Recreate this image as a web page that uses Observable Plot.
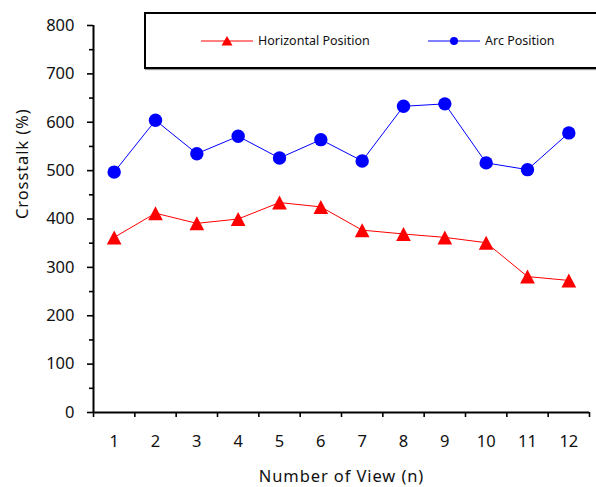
<!DOCTYPE html>
<html>
<head>
<meta charset="utf-8">
<script src="https://cdn.jsdelivr.net/npm/d3@7"></script>
<script src="https://cdn.jsdelivr.net/npm/@observablehq/plot@0.6"></script>
<style>
  html, body { margin: 0; padding: 0; background: #fff; overflow: hidden; }
  #wrap { position: relative; width: 596px; height: 487px; font-family: "Noto Sans", sans-serif; }
  #legend { position: absolute; left: 144px; top: 12px; width: 470px; height: 53px; border: 2px solid #000; background: #fff; box-shadow: 1px 1px 1px #999; }
  .item { position: absolute; top: 0; height: 53px; display: flex; align-items: center; font-size: 12.5px; color: #111; }
  .item svg { margin-right: 5px; }
  .title text { letter-spacing: 0.9px; }
</style>
</head>
<body>
<div id="wrap"></div>
<script>
const views = [1, 2, 3, 4, 5, 6, 7, 8, 9, 10, 11, 12];
const horizontal = [362, 412, 391, 400, 434, 425, 377, 369, 362, 351, 281, 273];
const arc = [497, 604, 535, 571, 526, 564, 520, 633, 638, 516, 502, 578];
const yMajor = [0, 100, 200, 300, 400, 500, 600, 700, 800];
const yMinor = [50, 150, 250, 350, 450, 550, 650, 750];
const seriesNames = ["Horizontal Position", "Arc Position"];
const seriesColors = ["#ff0000", "#0000ff"];

const xEdges = views.map(v => v - 0.5).concat([views[views.length - 1] + 0.5]);
const hData = views.map((v, i) => ({view: v, value: horizontal[i]}));
const aData = views.map((v, i) => ({view: v, value: arc[i]}));

// bounding-box centred triangle (Excel style)
const tri = {
  draw(ctx, size) {
    const r = Math.sqrt(size / Math.PI);
    ctx.moveTo(0, -r);
    ctx.lineTo(r * 1.05, r);
    ctx.lineTo(-r * 1.05, r);
    ctx.closePath();
  }
};

const chart = Plot.plot({
  width: 596,
  height: 487,
  marginLeft: 93,
  marginRight: 7,
  marginTop: 25,
  marginBottom: 75,
  style: {fontFamily: "Noto Sans, sans-serif", fontSize: "16px", color: "#111", background: "#fff", overflow: "visible"},
  x: {type: "linear", domain: [xEdges[0], xEdges[xEdges.length - 1]]},
  y: {domain: [0, 800]},
  marks: [
    Plot.axisY({ticks: yMajor, tickSize: 6, tickPadding: 13, fontSize: 16.5, label: null, strokeWidth: 1.6, stroke: "#000"}),
    Plot.axisY({ticks: yMinor, tickSize: 4, text: null, label: null, strokeWidth: 1.6, stroke: "#000"}),
    Plot.axisX({ticks: xEdges, tickSize: 5, text: null, label: null, strokeWidth: 1.6, stroke: "#000"}),
    Plot.axisX({ticks: views, tickSize: 0, tickPadding: 23, fontSize: 16.5, label: null, tickFormat: d => String(d)}),
    Plot.ruleY([0], {stroke: "#000", strokeWidth: 2}),
    Plot.ruleX([xEdges[0]], {stroke: "#000", strokeWidth: 2}),
    Plot.line(hData, {x: "view", y: "value", stroke: seriesColors[0], strokeWidth: 1}),
    Plot.line(aData, {x: "view", y: "value", stroke: seriesColors[1], strokeWidth: 1}),
    Plot.dot(hData, {x: "view", y: "value", symbol: tri, r: 7, fill: seriesColors[0], stroke: "none"}),
    Plot.dot(aData, {x: "view", y: "value", r: 6.7, fill: seriesColors[1], stroke: "none"}),
    Plot.text(["Number of View (n)"], {frameAnchor: "bottom", dy: 64, fontSize: 16.5, fill: "#111", lineAnchor: "middle", className: "title"}),
    Plot.text(["Crosstalk (%)"], {frameAnchor: "left", dx: -71, rotate: -90, fontSize: 16.5, fill: "#111", lineAnchor: "middle", className: "title"})
  ]
});

const wrap = document.getElementById("wrap");
wrap.appendChild(chart);

const legend = document.createElement("div");
legend.id = "legend";
const itemLeft = [55, 282];
seriesNames.forEach((name, i) => {
  const it = document.createElement("div");
  it.className = "item";
  it.style.left = itemLeft[i] + "px";
  const c = seriesColors[i];
  const marker = i === 0
    ? `<path d="M26,15 L31.5,24.5 L20.5,24.5 Z" fill="${c}"/>`
    : `<circle cx="26" cy="20" r="4" fill="${c}"/>`;
  it.innerHTML = `<svg width="52" height="40" viewBox="0 0 52 40"><line x1="0" y1="20" x2="52" y2="20" stroke="${c}" stroke-width="1"/>${marker}</svg><span>${name}</span>`;
  legend.appendChild(it);
});
wrap.appendChild(legend);
</script>
</body>
</html>
